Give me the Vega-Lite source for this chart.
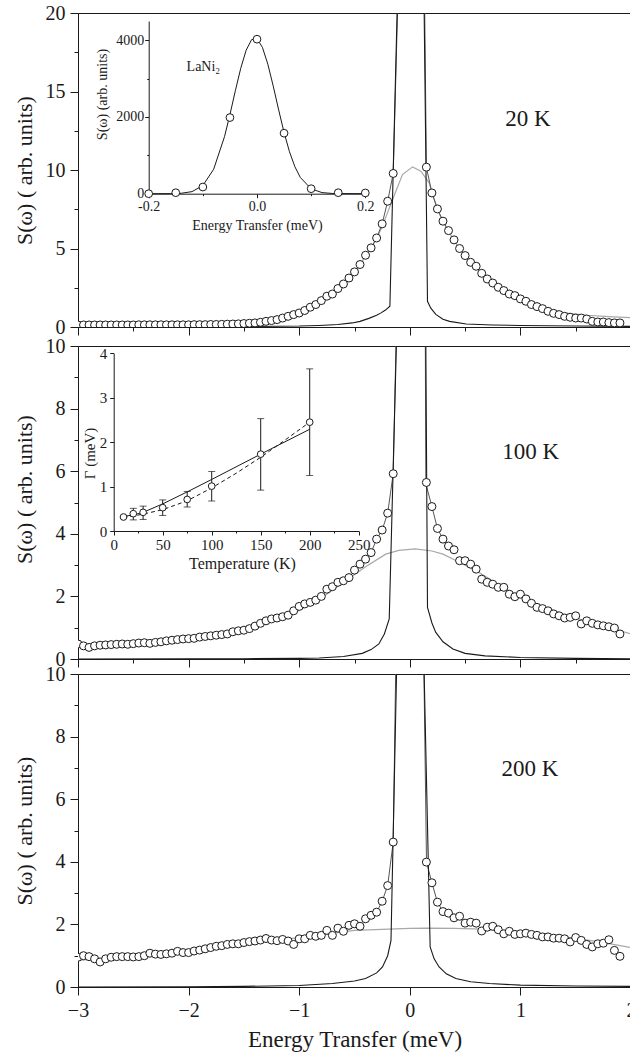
{
"$schema": "https://vega.github.io/schema/vega-lite/v6.json",
"background": "white",
"padding": {"left": 12, "top": 2, "right": 0, "bottom": 0},
"config": {
  "view": {"stroke": "#1a1a1a", "strokeWidth": 1},
  "axis": {"grid": false, "domainColor": "#1a1a1a", "tickColor": "#1a1a1a", "labelColor": "#1a1a1a", "titleColor": "#1a1a1a", "labelFont": "Liberation Serif", "titleFont": "Liberation Serif", "titleFontWeight": "normal", "labelOverlap": false, "labelFlush": false, "tickWidth": 1, "domainWidth": 1},
  "text": {"font": "Liberation Serif"}
},
"datasets": {
  "p1": [{"x":-3.0,"y":0.13},{"x":-2.95,"y":0.13},{"x":-2.9,"y":0.13},{"x":-2.85,"y":0.13},{"x":-2.8,"y":0.13},{"x":-2.75,"y":0.13},{"x":-2.7,"y":0.13},{"x":-2.65,"y":0.13},{"x":-2.6,"y":0.13},{"x":-2.55,"y":0.13},{"x":-2.5,"y":0.13},{"x":-2.45,"y":0.14},{"x":-2.4,"y":0.14},{"x":-2.35,"y":0.14},{"x":-2.3,"y":0.14},{"x":-2.25,"y":0.14},{"x":-2.2,"y":0.14},{"x":-2.15,"y":0.14},{"x":-2.1,"y":0.14},{"x":-2.05,"y":0.14},{"x":-2.0,"y":0.14},{"x":-1.95,"y":0.15},{"x":-1.9,"y":0.15},{"x":-1.85,"y":0.15},{"x":-1.8,"y":0.16},{"x":-1.75,"y":0.16},{"x":-1.7,"y":0.17},{"x":-1.65,"y":0.18},{"x":-1.6,"y":0.19},{"x":-1.55,"y":0.2},{"x":-1.5,"y":0.22},{"x":-1.45,"y":0.24},{"x":-1.4,"y":0.26},{"x":-1.35,"y":0.3},{"x":-1.3,"y":0.36},{"x":-1.25,"y":0.41},{"x":-1.2,"y":0.47},{"x":-1.15,"y":0.57},{"x":-1.1,"y":0.68},{"x":-1.05,"y":0.79},{"x":-1.0,"y":0.89},{"x":-0.95,"y":1.05},{"x":-0.9,"y":1.26},{"x":-0.85,"y":1.43},{"x":-0.8,"y":1.68},{"x":-0.75,"y":1.96},{"x":-0.7,"y":2.1},{"x":-0.65,"y":2.45},{"x":-0.6,"y":2.74},{"x":-0.55,"y":3.12},{"x":-0.5,"y":3.51},{"x":-0.45,"y":3.98},{"x":-0.4,"y":4.57},{"x":-0.35,"y":5.04},{"x":-0.3,"y":5.67},{"x":-0.25,"y":6.57},{"x":-0.2,"y":8.01},{"x":-0.15,"y":9.78},
    {"x":0.15,"y":10.18},{"x":0.2,"y":8.54},{"x":0.25,"y":7.52},{"x":0.3,"y":6.74},{"x":0.35,"y":6.14},{"x":0.4,"y":5.55},{"x":0.45,"y":5.0},{"x":0.5,"y":4.55},{"x":0.55,"y":4.12},{"x":0.6,"y":3.87},{"x":0.65,"y":3.42},{"x":0.7,"y":3.06},{"x":0.75,"y":2.8},{"x":0.8,"y":2.53},{"x":0.85,"y":2.32},{"x":0.9,"y":2.1},{"x":0.95,"y":2.0},{"x":1.0,"y":1.79},{"x":1.05,"y":1.64},{"x":1.1,"y":1.43},{"x":1.15,"y":1.3},{"x":1.2,"y":1.17},{"x":1.25,"y":1.0},{"x":1.3,"y":0.87},{"x":1.35,"y":0.79},{"x":1.4,"y":0.68},{"x":1.45,"y":0.62},{"x":1.5,"y":0.57},{"x":1.55,"y":0.57},{"x":1.6,"y":0.51},{"x":1.65,"y":0.36},{"x":1.7,"y":0.32},{"x":1.75,"y":0.32},{"x":1.8,"y":0.28},{"x":1.85,"y":0.26},{"x":1.9,"y":0.26}],
  "q1": [{"x":-3,"y":0.12},{"x":-2.5,"y":0.13},{"x":-2,"y":0.14},{"x":-1.6,"y":0.19},{"x":-1.4,"y":0.27},{"x":-1.2,"y":0.47},{"x":-1.0,"y":0.85},{"x":-0.9,"y":1.2},{"x":-0.8,"y":1.6},{"x":-0.7,"y":2.05},{"x":-0.6,"y":2.7},{"x":-0.5,"y":3.45},{"x":-0.4,"y":4.5},{"x":-0.3,"y":5.6},{"x":-0.25,"y":6.4},{"x":-0.2,"y":7.3},{"x":-0.126,"y":8.65},{"x":-0.066,"y":9.71},{"x":0.025,"y":10.2},{"x":0.1,"y":9.92},{"x":0.175,"y":9.18},{"x":0.2,"y":8.6},{"x":0.25,"y":7.5},{"x":0.3,"y":6.7},{"x":0.4,"y":5.5},{"x":0.5,"y":4.5},{"x":0.6,"y":3.8},{"x":0.7,"y":3.1},{"x":0.8,"y":2.55},{"x":0.9,"y":2.1},{"x":1.0,"y":1.7},{"x":1.2,"y":1.2},{"x":1.4,"y":0.9},{"x":1.6,"y":0.75},{"x":1.8,"y":0.66},{"x":2.0,"y":0.6}],
  "f1": [{"x":-0.35,"y":5.04},{"x":-0.3,"y":5.67},{"x":-0.25,"y":6.57},{"x":-0.2,"y":8.01},{"x":-0.15,"y":9.78},{"x":-0.1,"y":22.9},{"x":0,"y":400},{"x":0.1,"y":42.9},{"x":0.15,"y":10.18},{"x":0.2,"y":8.54},{"x":0.25,"y":7.52},{"x":0.3,"y":6.74},{"x":0.35,"y":6.14}],
  "e1": [{"x":-3,"y":0.01},{"x":-2.5,"y":0.015},{"x":-2,"y":0.02},{"x":-1.5,"y":0.03},{"x":-1.0,"y":0.06},{"x":-0.82,"y":0.1},{"x":-0.65,"y":0.16},{"x":-0.52,"y":0.26},{"x":-0.45,"y":0.36},{"x":-0.37,"y":0.55},{"x":-0.3,"y":0.75},{"x":-0.26,"y":0.9},{"x":-0.22,"y":1.08},{"x":-0.18,"y":1.32},{"x":-0.1,"y":24.3},{"x":0,"y":400},{"x":0.1,"y":38.4},{"x":0.16,"y":1.64},{"x":0.19,"y":1.2},{"x":0.235,"y":0.8},{"x":0.3,"y":0.5},{"x":0.36,"y":0.36},{"x":0.51,"y":0.19},{"x":0.75,"y":0.13},{"x":1.0,"y":0.1},{"x":1.5,"y":0.06},{"x":2.0,"y":0.04}],
  "t1": [{"x":0.862,"y":12.79,"label":"20 K"}],
  "p2": [{"x":-3.0,"y":0.48},{"x":-2.95,"y":0.42},{"x":-2.9,"y":0.37},{"x":-2.85,"y":0.42},{"x":-2.8,"y":0.44},{"x":-2.75,"y":0.45},{"x":-2.7,"y":0.46},{"x":-2.65,"y":0.47},{"x":-2.6,"y":0.48},{"x":-2.55,"y":0.47},{"x":-2.5,"y":0.49},{"x":-2.45,"y":0.51},{"x":-2.4,"y":0.52},{"x":-2.35,"y":0.5},{"x":-2.3,"y":0.53},{"x":-2.25,"y":0.55},{"x":-2.2,"y":0.58},{"x":-2.15,"y":0.6},{"x":-2.1,"y":0.62},{"x":-2.05,"y":0.64},{"x":-2.0,"y":0.65},{"x":-1.95,"y":0.66},{"x":-1.9,"y":0.7},{"x":-1.85,"y":0.72},{"x":-1.8,"y":0.74},{"x":-1.75,"y":0.76},{"x":-1.7,"y":0.78},{"x":-1.65,"y":0.8},{"x":-1.6,"y":0.87},{"x":-1.55,"y":0.9},{"x":-1.5,"y":0.92},{"x":-1.45,"y":0.97},{"x":-1.4,"y":1.05},{"x":-1.35,"y":1.14},{"x":-1.3,"y":1.22},{"x":-1.25,"y":1.28},{"x":-1.2,"y":1.31},{"x":-1.15,"y":1.35},{"x":-1.1,"y":1.4},{"x":-1.05,"y":1.54},{"x":-1.0,"y":1.68},{"x":-0.95,"y":1.76},{"x":-0.9,"y":1.81},{"x":-0.85,"y":1.88},{"x":-0.8,"y":2.0},{"x":-0.75,"y":2.23},{"x":-0.7,"y":2.31},{"x":-0.65,"y":2.45},{"x":-0.6,"y":2.5},{"x":-0.55,"y":2.6},{"x":-0.5,"y":2.84},{"x":-0.45,"y":3.03},{"x":-0.4,"y":3.19},{"x":-0.35,"y":3.4},{"x":-0.3,"y":3.83},{"x":-0.25,"y":4.12},{"x":-0.2,"y":4.66},{"x":-0.15,"y":5.92},
    {"x":0.15,"y":5.64},{"x":0.2,"y":4.87},{"x":0.25,"y":4.17},{"x":0.3,"y":3.83},{"x":0.35,"y":3.61},{"x":0.4,"y":3.49},{"x":0.45,"y":3.14},{"x":0.5,"y":3.14},{"x":0.55,"y":3.03},{"x":0.6,"y":2.87},{"x":0.65,"y":2.55},{"x":0.7,"y":2.45},{"x":0.75,"y":2.39},{"x":0.8,"y":2.29},{"x":0.85,"y":2.29},{"x":0.9,"y":2.07},{"x":0.95,"y":1.99},{"x":1.0,"y":2.07},{"x":1.05,"y":1.92},{"x":1.1,"y":1.78},{"x":1.15,"y":1.65},{"x":1.2,"y":1.61},{"x":1.25,"y":1.54},{"x":1.3,"y":1.44},{"x":1.35,"y":1.38},{"x":1.4,"y":1.31},{"x":1.45,"y":1.33},{"x":1.5,"y":1.38},{"x":1.55,"y":1.12},{"x":1.6,"y":1.22},{"x":1.65,"y":1.14},{"x":1.7,"y":1.09},{"x":1.75,"y":1.06},{"x":1.8,"y":1.03},{"x":1.85,"y":0.99},{"x":1.9,"y":0.8}],
  "q2": [{"x":-3,"y":0.45},{"x":-2.5,"y":0.5},{"x":-2,"y":0.63},{"x":-1.5,"y":0.92},{"x":-1.0,"y":1.55},{"x":-0.8,"y":1.95},{"x":-0.56,"y":2.55},{"x":-0.4,"y":2.95},{"x":-0.217,"y":3.35},{"x":-0.1,"y":3.47},{"x":0.05,"y":3.52},{"x":0.2,"y":3.45},{"x":0.3,"y":3.35},{"x":0.42,"y":3.14},{"x":0.5,"y":3.0},{"x":0.6,"y":2.82},{"x":0.7,"y":2.6},{"x":0.8,"y":2.38},{"x":0.9,"y":2.17},{"x":1.0,"y":1.98},{"x":1.2,"y":1.68},{"x":1.4,"y":1.42},{"x":1.6,"y":1.2},{"x":1.8,"y":1.0},{"x":2.0,"y":0.8}],
  "f2": [{"x":-0.35,"y":3.4},{"x":-0.3,"y":3.83},{"x":-0.25,"y":4.12},{"x":-0.2,"y":4.66},{"x":-0.15,"y":5.92},{"x":-0.1,"y":14.1},{"x":0,"y":400},{"x":0.1,"y":50},{"x":0.145,"y":5.6},{"x":0.2,"y":4.87},{"x":0.25,"y":4.17},{"x":0.3,"y":3.83},{"x":0.35,"y":3.61}],
  "e2": [{"x":-3,"y":0.0},{"x":-2,"y":0.005},{"x":-1.5,"y":0.01},{"x":-1.0,"y":0.02},{"x":-0.82,"y":0.03},{"x":-0.6,"y":0.08},{"x":-0.43,"y":0.18},{"x":-0.35,"y":0.3},{"x":-0.28,"y":0.48},{"x":-0.23,"y":0.8},{"x":-0.186,"y":1.28},{"x":-0.1,"y":12.9},{"x":0,"y":400},{"x":0.1,"y":35},{"x":0.16,"y":1.65},{"x":0.2,"y":1.15},{"x":0.235,"y":0.85},{"x":0.3,"y":0.55},{"x":0.39,"y":0.32},{"x":0.5,"y":0.18},{"x":0.68,"y":0.1},{"x":1.0,"y":0.05},{"x":1.5,"y":0.02},{"x":2.0,"y":0.01}],
  "t2": [{"x":0.837,"y":6.38,"label":"100 K"}],
  "p3": [{"x":-3.0,"y":0.95},{"x":-2.95,"y":1.0},{"x":-2.9,"y":0.97},{"x":-2.85,"y":0.9},{"x":-2.8,"y":0.8},{"x":-2.75,"y":0.9},{"x":-2.7,"y":0.95},{"x":-2.65,"y":0.97},{"x":-2.6,"y":0.97},{"x":-2.55,"y":0.97},{"x":-2.5,"y":0.96},{"x":-2.45,"y":0.97},{"x":-2.4,"y":1.0},{"x":-2.35,"y":1.08},{"x":-2.3,"y":1.05},{"x":-2.25,"y":1.04},{"x":-2.2,"y":1.06},{"x":-2.15,"y":1.08},{"x":-2.1,"y":1.14},{"x":-2.05,"y":1.1},{"x":-2.0,"y":1.1},{"x":-1.95,"y":1.15},{"x":-1.9,"y":1.18},{"x":-1.85,"y":1.22},{"x":-1.8,"y":1.26},{"x":-1.75,"y":1.3},{"x":-1.7,"y":1.32},{"x":-1.65,"y":1.36},{"x":-1.6,"y":1.38},{"x":-1.55,"y":1.38},{"x":-1.5,"y":1.42},{"x":-1.45,"y":1.45},{"x":-1.4,"y":1.47},{"x":-1.35,"y":1.5},{"x":-1.3,"y":1.55},{"x":-1.25,"y":1.5},{"x":-1.2,"y":1.48},{"x":-1.15,"y":1.52},{"x":-1.1,"y":1.47},{"x":-1.05,"y":1.36},{"x":-1.0,"y":1.54},{"x":-0.95,"y":1.54},{"x":-0.9,"y":1.65},{"x":-0.85,"y":1.62},{"x":-0.8,"y":1.65},{"x":-0.75,"y":1.81},{"x":-0.7,"y":1.65},{"x":-0.65,"y":1.88},{"x":-0.6,"y":1.78},{"x":-0.55,"y":1.97},{"x":-0.5,"y":2.02},{"x":-0.45,"y":1.94},{"x":-0.4,"y":2.18},{"x":-0.35,"y":2.29},{"x":-0.3,"y":2.39},{"x":-0.25,"y":2.74},{"x":-0.2,"y":3.24},{"x":-0.15,"y":4.63},
    {"x":0.15,"y":3.99},{"x":0.2,"y":3.33},{"x":0.25,"y":2.71},{"x":0.3,"y":2.41},{"x":0.35,"y":2.36},{"x":0.4,"y":2.21},{"x":0.45,"y":2.26},{"x":0.5,"y":2.04},{"x":0.55,"y":2.07},{"x":0.6,"y":2.04},{"x":0.65,"y":1.79},{"x":0.7,"y":1.91},{"x":0.75,"y":1.94},{"x":0.8,"y":1.83},{"x":0.85,"y":1.7},{"x":0.9,"y":1.78},{"x":0.95,"y":1.68},{"x":1.0,"y":1.7},{"x":1.05,"y":1.72},{"x":1.1,"y":1.68},{"x":1.15,"y":1.65},{"x":1.2,"y":1.6},{"x":1.25,"y":1.6},{"x":1.3,"y":1.56},{"x":1.35,"y":1.56},{"x":1.4,"y":1.54},{"x":1.45,"y":1.44},{"x":1.5,"y":1.58},{"x":1.55,"y":1.49},{"x":1.6,"y":1.36},{"x":1.65,"y":1.28},{"x":1.7,"y":1.38},{"x":1.75,"y":1.4},{"x":1.8,"y":1.51},{"x":1.85,"y":1.17},{"x":1.9,"y":0.98}],
  "q3": [{"x":-3,"y":0.85},{"x":-2.5,"y":1.0},{"x":-2,"y":1.18},{"x":-1.5,"y":1.38},{"x":-1.0,"y":1.58},{"x":-0.5,"y":1.81},{"x":0,"y":1.87},{"x":0.15,"y":1.88},{"x":0.4,"y":1.87},{"x":0.66,"y":1.85},{"x":1.0,"y":1.76},{"x":1.4,"y":1.6},{"x":1.7,"y":1.45},{"x":2.0,"y":1.26}],
  "f3": [{"x":-0.35,"y":2.29},{"x":-0.3,"y":2.39},{"x":-0.25,"y":2.74},{"x":-0.2,"y":3.24},{"x":-0.15,"y":4.63},{"x":-0.1,"y":16.8},{"x":0,"y":400},{"x":0.1,"y":17.3},{"x":0.151,"y":3.99},{"x":0.2,"y":3.33},{"x":0.25,"y":2.71},{"x":0.3,"y":2.41},{"x":0.35,"y":2.36}],
  "e3": [{"x":-3,"y":0.0},{"x":-2,"y":0.01},{"x":-1.5,"y":0.02},{"x":-1.0,"y":0.05},{"x":-0.7,"y":0.11},{"x":-0.5,"y":0.19},{"x":-0.4,"y":0.27},{"x":-0.3,"y":0.45},{"x":-0.247,"y":0.64},{"x":-0.2,"y":1.0},{"x":-0.17,"y":1.49},{"x":-0.1,"y":13.4},{"x":0,"y":400},{"x":0.1,"y":14.8},{"x":0.184,"y":1.28},{"x":0.22,"y":0.9},{"x":0.265,"y":0.64},{"x":0.33,"y":0.42},{"x":0.416,"y":0.27},{"x":0.55,"y":0.17},{"x":0.72,"y":0.11},{"x":1.0,"y":0.06},{"x":1.5,"y":0.03},{"x":2.0,"y":0.02}],
  "t3": [{"x":0.828,"y":6.75,"label":"200 K"}],
  "i1p": [{"x":-0.2,"y":0},{"x":-0.15,"y":26},{"x":-0.1,"y":174},{"x":-0.05,"y":1984},{"x":0,"y":4026},{"x":0.05,"y":1577},{"x":0.1,"y":130},{"x":0.15,"y":26},{"x":0.2,"y":20}],
  "i1c": [{"x":-0.2,"y":0},{"x":-0.16,"y":2},{"x":-0.14,"y":11},{"x":-0.12,"y":54},{"x":-0.1,"y":212},{"x":-0.08,"y":638},{"x":-0.06,"y":1486},{"x":-0.05,"y":2060},{"x":-0.04,"y":2681},{"x":-0.03,"y":3269},{"x":-0.02,"y":3740},{"x":-0.01,"y":4014},{"x":0,"y":4040},{"x":0.01,"y":3813},{"x":0.02,"y":3375},{"x":0.03,"y":2803},{"x":0.04,"y":2183},{"x":0.05,"y":1594},{"x":0.06,"y":1092},{"x":0.07,"y":702},{"x":0.08,"y":423},{"x":0.1,"y":127},{"x":0.12,"y":29},{"x":0.14,"y":5},{"x":0.2,"y":0}],
  "i1t": [{"x":-0.13,"y":3300,"label":"LaNi₂"}],
  "i2p": [{"T":10,"G":0.315,"lo":0.29,"hi":0.34},{"T":20,"G":0.39,"lo":0.25,"hi":0.51},{"T":30,"G":0.42,"lo":0.26,"hi":0.56},{"T":50,"G":0.525,"lo":0.35,"hi":0.7},{"T":75,"G":0.71,"lo":0.54,"hi":0.89},{"T":100,"G":1.01,"lo":0.675,"hi":1.34},{"T":150,"G":1.73,"lo":0.92,"hi":2.53},{"T":200,"G":2.45,"lo":1.25,"hi":3.65}],
  "i2s": [{"T":7,"G":0.32},{"T":20,"G":0.36},{"T":30,"G":0.42},{"T":50,"G":0.61},{"T":75,"G":0.88},{"T":100,"G":1.16},{"T":150,"G":1.73},{"T":200,"G":2.29}],
  "i2d": [{"T":10,"G":0.3},{"T":30,"G":0.38},{"T":50,"G":0.48},{"T":75,"G":0.68},{"T":100,"G":0.97},{"T":125,"G":1.3},{"T":150,"G":1.66},{"T":175,"G":2.05},{"T":200,"G":2.45}]
},
"spacing": 19,
"bounds": "flush",
"vconcat": [
  {
    "width": 553, "height": 314,
    "resolve": {"scale": {"x": "independent", "y": "independent"}},
    "layer": [
      {
        "encoding": {
          "x": {"field": "x", "type": "quantitative", "scale": {"domain": [-3, 2], "nice": false, "zero": false},
                "axis": {"values": [-3,-2.5,-2,-1.5,-1,-0.5,0,0.5,1,1.5,2], "labels": false, "title": null, "tickSize": {"condition": {"test": "datum.value % 1 === 0", "value": 8}, "value": 4}}},
          "y": {"field": "y", "type": "quantitative", "scale": {"domain": [0, 20], "nice": false, "zero": false},
                "axis": {"values": [0,2.5,5,7.5,10,12.5,15,17.5,20], "format": "d", "labelExpr": "datum.value % 5 === 0 ? datum.label : ''", "tickSize": {"condition": {"test": "datum.value % 5 === 0", "value": 8}, "value": 4}, "labelFontSize": 20, "labelPadding": 5, "title": "S(ω) ( arb. units)", "titleFontSize": 22, "titleX": -46.5, "titleBaseline": "alphabetic"}}
        },
        "layer": [
          {"data": {"name": "q1"}, "mark": {"type": "line", "stroke": "#a8a8a8", "strokeWidth": 1.2, "clip": true}},
          {"data": {"name": "f1"}, "mark": {"type": "line", "stroke": "#555555", "strokeWidth": 1, "clip": true}},
          {"data": {"name": "e1"}, "mark": {"type": "line", "stroke": "#1a1a1a", "strokeWidth": 1.1, "clip": true}},
          {"data": {"name": "p1"}, "mark": {"type": "point", "shape": "circle", "filled": true, "fill": "white", "stroke": "#1a1a1a", "strokeWidth": 1, "size": 64, "opacity": 1, "clip": true}},
          {"data": {"name": "t1"}, "mark": {"type": "text", "fontSize": 23, "font": "Liberation Serif", "align": "left", "baseline": "alphabetic", "fill": "#1a1a1a"}, "encoding": {"text": {"field": "label", "type": "nominal"}}}
        ]
      },
      {
        "encoding": {
          "x": {"field": "x", "type": "quantitative", "scale": {"domain": [-0.2, 0.2], "range": [70.7, 287.3], "nice": false, "zero": false},
                "axis": {"orient": "bottom", "offset": -133.3, "values": [-0.2,-0.1,0,0.1,0.2], "labelExpr": "abs(datum.value) < 0.001 ? '0.0' : (datum.value < -0.15 ? '-0.2' : (datum.value > 0.15 ? '0.2' : ''))", "tickSize": {"condition": {"test": "abs(datum.value) < 0.001 || abs(datum.value) > 0.15", "value": 4}, "value": 2}, "labelFontSize": 14, "labelPadding": 2, "title": "Energy Transfer (meV)", "titleFontSize": 14, "titleY": 36, "titleBaseline": "alphabetic"}},
          "y": {"field": "y", "type": "quantitative", "scale": {"domain": [0, 4500], "range": [180.7, 8], "nice": false, "zero": false},
                "axis": {"orient": "left", "offset": -70.7, "values": [0,1000,2000,3000,4000], "format": "d", "labelExpr": "datum.value % 2000 === 0 ? datum.label : ''", "tickSize": {"condition": {"test": "datum.value % 2000 === 0", "value": 4}, "value": 2}, "labelFontSize": 14, "labelPadding": 1, "title": "S(ω) (arb. units)", "titleFontSize": 14, "titleX": -42, "titleY": 81, "titleBaseline": "alphabetic"}}
        },
        "layer": [
          {"data": {"values": [{}]}, "mark": {"type": "rect", "fill": "white", "fillOpacity": 0, "stroke": "#1a1a1a", "strokeWidth": 1}, "encoding": {"x": {"datum": -0.2}, "x2": {"datum": 0.2}, "y": {"datum": 0}, "y2": {"datum": 4500}}},
          {"data": {"name": "i1c"}, "mark": {"type": "line", "stroke": "#1a1a1a", "strokeWidth": 1}},
          {"data": {"name": "i1p"}, "mark": {"type": "point", "shape": "circle", "filled": true, "fill": "white", "stroke": "#1a1a1a", "strokeWidth": 1, "size": 60, "opacity": 1}},
          {"data": {"name": "i1t"}, "mark": {"type": "text", "fontSize": 14, "font": "Liberation Serif", "align": "left", "baseline": "middle", "fill": "#1a1a1a"}, "encoding": {"text": {"field": "label", "type": "nominal"}}}
        ]
      }
    ]
  },
  {
    "spacing": 15,
    "bounds": "flush",
    "vconcat": [
      {
        "width": 553, "height": 313,
        "resolve": {"scale": {"x": "independent", "y": "independent"}},
        "layer": [
          {
            "encoding": {
              "x": {"field": "x", "type": "quantitative", "scale": {"domain": [-3, 2], "nice": false, "zero": false},
                    "axis": {"values": [-3,-2.5,-2,-1.5,-1,-0.5,0,0.5,1,1.5,2], "labels": false, "title": null, "tickSize": {"condition": {"test": "datum.value % 1 === 0", "value": 8}, "value": 4}}},
              "y": {"field": "y", "type": "quantitative", "scale": {"domain": [0, 10], "nice": false, "zero": false},
                    "axis": {"values": [0,1,2,3,4,5,6,7,8,9,10], "format": "d", "labelExpr": "datum.value % 2 === 0 ? datum.label : ''", "tickSize": {"condition": {"test": "datum.value % 2 === 0", "value": 8}, "value": 4}, "labelFontSize": 20, "labelPadding": 5, "title": "S(ω) ( arb. units)", "titleFontSize": 22, "titleX": -46.5, "titleY": 143, "titleBaseline": "alphabetic"}}
            },
            "layer": [
              {"data": {"name": "q2"}, "mark": {"type": "line", "stroke": "#a8a8a8", "strokeWidth": 1.2, "clip": true}},
              {"data": {"name": "f2"}, "mark": {"type": "line", "stroke": "#555555", "strokeWidth": 1, "clip": true}},
              {"data": {"name": "e2"}, "mark": {"type": "line", "stroke": "#1a1a1a", "strokeWidth": 1.1, "clip": true}},
              {"data": {"name": "p2"}, "mark": {"type": "point", "shape": "circle", "filled": true, "fill": "white", "stroke": "#1a1a1a", "strokeWidth": 1, "size": 64, "opacity": 1, "clip": true}},
              {"data": {"name": "t2"}, "mark": {"type": "text", "fontSize": 23, "font": "Liberation Serif", "align": "left", "baseline": "alphabetic", "fill": "#1a1a1a"}, "encoding": {"text": {"field": "label", "type": "nominal"}}}
            ]
          },
          {
            "encoding": {
              "x": {"field": "T", "type": "quantitative", "scale": {"domain": [0, 250], "range": [35.7, 280.7], "nice": false, "zero": false},
                    "axis": {"orient": "bottom", "offset": -128, "values": [0,25,50,75,100,125,150,175,200,225,250], "format": "d", "labelExpr": "datum.value % 50 === 0 ? datum.label : ''", "tickSize": {"condition": {"test": "datum.value % 50 === 0", "value": 4}, "value": 2}, "labelFontSize": 15, "labelPadding": 2, "title": "Temperature (K)", "titleFontSize": 16, "titleX": 164, "titleY": 37, "titleBaseline": "alphabetic"}},
              "y": {"field": "G", "type": "quantitative", "scale": {"domain": [0, 4], "range": [185, 7.3], "nice": false, "zero": false},
                    "axis": {"orient": "left", "offset": -35.7, "values": [0,0.5,1,1.5,2,2.5,3,3.5,4], "format": "d", "labelExpr": "datum.value % 1 === 0 ? datum.label : ''", "tickSize": {"condition": {"test": "datum.value % 1 === 0", "value": 4}, "value": 2}, "labelFontSize": 15, "labelPadding": 3, "title": "Γ (meV)", "titleFontSize": 15, "titleX": -19.5, "titleY": 107, "titleBaseline": "alphabetic"}}
            },
            "layer": [
              {"data": {"values": [{}]}, "mark": {"type": "rect", "fill": "white", "fillOpacity": 0, "stroke": "#1a1a1a", "strokeWidth": 1}, "encoding": {"x": {"datum": 0}, "x2": {"datum": 250}, "y": {"datum": 0}, "y2": {"datum": 4}}},
              {"data": {"name": "i2s"}, "mark": {"type": "line", "stroke": "#1a1a1a", "strokeWidth": 1}},
              {"data": {"name": "i2d"}, "mark": {"type": "line", "stroke": "#1a1a1a", "strokeWidth": 1, "strokeDash": [4, 3]}},
              {"data": {"name": "i2p"}, "mark": {"type": "errorbar", "ticks": {"size": 7, "color": "#1a1a1a"}, "color": "#1a1a1a", "thickness": 1}, "encoding": {"y": {"field": "lo", "type": "quantitative"}, "y2": {"field": "hi"}}},
              {"data": {"name": "i2p"}, "mark": {"type": "point", "shape": "circle", "filled": true, "fill": "white", "stroke": "#1a1a1a", "strokeWidth": 1, "size": 45, "opacity": 1}}
            ]
          }
        ]
      },
      {
        "width": 553, "height": 313,
        "layer": [
          {"data": {"name": "q3"}, "mark": {"type": "line", "stroke": "#a8a8a8", "strokeWidth": 1.2, "clip": true}},
          {"data": {"name": "f3"}, "mark": {"type": "line", "stroke": "#555555", "strokeWidth": 1, "clip": true}},
          {"data": {"name": "e3"}, "mark": {"type": "line", "stroke": "#1a1a1a", "strokeWidth": 1.1, "clip": true}},
          {"data": {"name": "p3"}, "mark": {"type": "point", "shape": "circle", "filled": true, "fill": "white", "stroke": "#1a1a1a", "strokeWidth": 1, "size": 64, "opacity": 1, "clip": true}},
          {"data": {"name": "t3"}, "mark": {"type": "text", "fontSize": 23, "font": "Liberation Serif", "align": "left", "baseline": "alphabetic", "fill": "#1a1a1a"}, "encoding": {"text": {"field": "label", "type": "nominal"}}}
        ],
        "encoding": {
          "x": {"field": "x", "type": "quantitative", "scale": {"domain": [-3, 2], "nice": false, "zero": false},
                "axis": {"values": [-3,-2.5,-2,-1.5,-1,-0.5,0,0.5,1,1.5,2], "format": "d", "labelExpr": "datum.value % 1 === 0 ? datum.label : ''", "tickSize": {"condition": {"test": "datum.value % 1 === 0", "value": 8}, "value": 4}, "labelFontSize": 20, "labelPadding": 5, "title": "Energy Transfer (meV)", "titleFontSize": 23, "titleY": 59.5, "titleBaseline": "alphabetic"}},
          "y": {"field": "y", "type": "quantitative", "scale": {"domain": [0, 10], "nice": false, "zero": false},
                "axis": {"values": [0,1,2,3,4,5,6,7,8,9,10], "format": "d", "labelExpr": "datum.value % 2 === 0 ? datum.label : ''", "tickSize": {"condition": {"test": "datum.value % 2 === 0", "value": 8}, "value": 4}, "labelFontSize": 20, "labelPadding": 5, "title": "S(ω) ( arb. units)", "titleFontSize": 22, "titleX": -46.5, "titleBaseline": "alphabetic"}}
        }
      }
    ]
  }
]
}
